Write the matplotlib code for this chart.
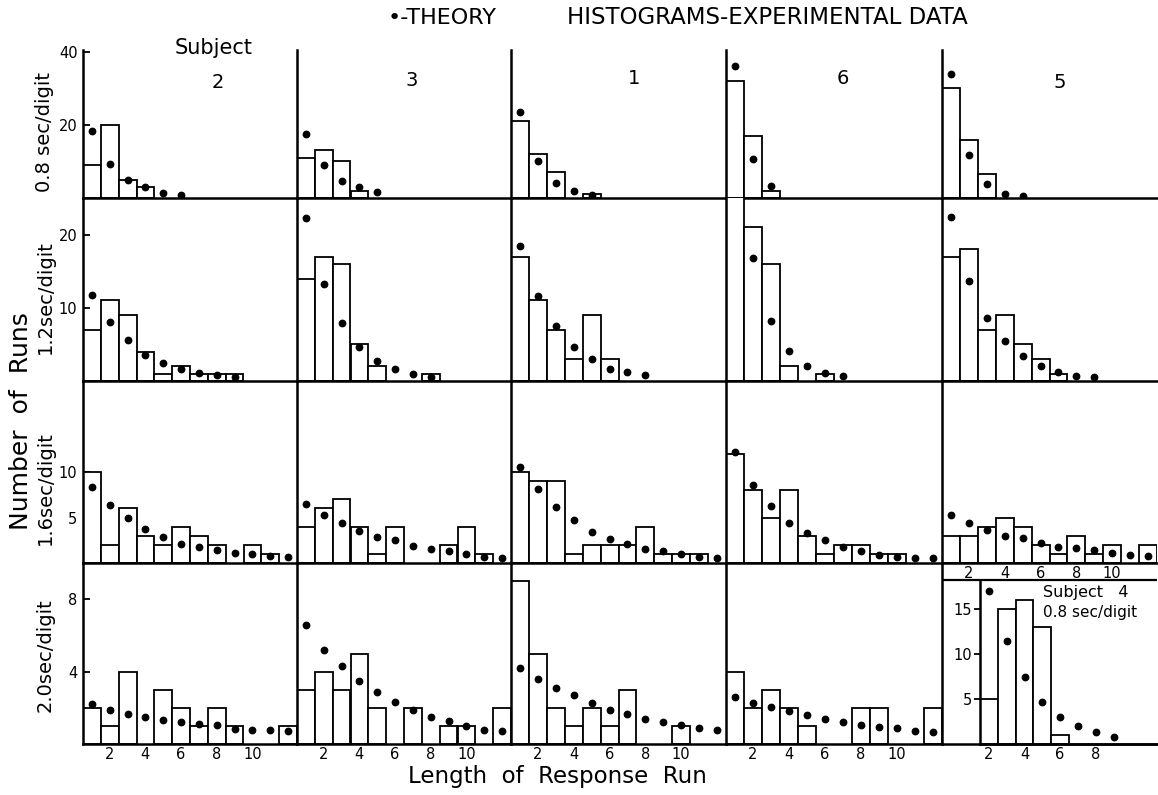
import numpy as np
import matplotlib
matplotlib.use('Agg')
import matplotlib.pyplot as plt

# Sujetos en el orden de las columnas
subjects = ['2', '3', '1', '6', '5']
rate_labels = ['0.8 sec/digit', '1.2sec/digit', '1.6sec/digit', '2.0sec/digit']

# Histogramas experimentales (nº de rachas de longitud 1, 2, 3, ...), una lista por sujeto
bars_08 = [[9, 20, 5, 3],
           [11, 13, 10, 2],
           [21, 12, 7, 0, 1],
           [32, 17, 2],
           [30, 16, 6.6]]
bars_12 = [[7, 11, 9, 4, 1, 2, 1, 1, 1],
           [14, 17, 16, 5, 2, 0, 0, 1],
           [17, 11, 7, 3, 9, 3],
           [27, 21, 16, 2, 0, 1],
           [17, 18, 7, 9, 5, 3, 1]]
bars_16 = [[10, 2, 6, 3, 2, 4, 3, 2, 0, 2, 1],
           [4, 6, 7, 4, 1, 4, 0, 0, 2, 4, 1],
           [10, 9, 9, 1, 2, 2, 2, 4, 1, 1, 1],
           [12, 8, 5, 8, 3, 1, 2, 2, 1, 1],
           [3, 3, 4, 5, 4, 2, 1, 3, 1, 2, 0, 2]]
bars_20 = [[2, 1, 4, 0, 3, 2, 1, 2, 1, 0, 0, 1],
           [3, 4, 3, 5, 2, 0, 2, 0, 1, 1, 0, 2],
           [9, 5, 2, 1, 2, 1, 3, 0, 0, 1],
           [4, 2, 3, 2, 1, 0, 0, 2, 2, 0, 0, 2]]

# Valores teóricos (puntos)
theory_08 = [[18.3, 9.4, 5.0, 2.9, 1.4, 0.9],
             [17.4, 9.0, 4.7, 2.9, 1.6],
             [23.6, 10.0, 4.2, 1.8, 0.9],
             [36.2, 10.8, 3.2],
             [33.8, 11.9, 3.9, 1.2, 0.5]]
theory_12 = [[11.8, 8.1, 5.6, 3.6, 2.4, 1.6, 1.1, 0.8, 0.5],
             [22.3, 13.2, 7.9, 4.6, 2.7, 1.6, 1.0, 0.5],
             [18.4, 11.6, 7.5, 4.7, 3.0, 1.7, 1.2, 0.8],
             [np.nan, 16.8, 8.2, 4.1, 2.1, 1.1, 0.7],
             [22.4, 13.7, 8.6, 5.4, 3.4, 2.0, 1.2, 0.7, 0.5]]
theory_16 = [[8.3, 6.4, 5.0, 3.7, 2.9, 2.1, 1.8, 1.4, 1.1, 1.0, 0.8, 0.65],
             [6.5, 5.3, 4.4, 3.5, 2.9, 2.5, 1.9, 1.5, 1.3, 1.0, 0.7, 0.5],
             [10.6, 8.1, 6.1, 4.7, 3.4, 2.6, 2.1, 1.5, 1.3, 1.0, 0.7, 0.55],
             [12.2, 8.6, 6.25, 4.4, 3.3, 2.5, 1.8, 1.3, 0.85, 0.7, 0.5, 0.5],
             [5.3, 4.4, 3.6, 3.0, 2.7, 2.2, 1.8, 1.6, 1.4, 1.1, 0.85, 0.8]]
theory_20 = [[2.2, 1.9, 1.65, 1.5, 1.3, 1.2, 1.1, 1.05, 0.85, 0.8, 0.75, 0.7],
             [6.55, 5.2, 4.3, 3.5, 2.85, 2.3, 1.9, 1.5, 1.25, 1.0, 0.8, 0.7],
             [4.2, 3.6, 3.1, 2.7, 2.25, 1.9, 1.67, 1.4, 1.2, 1.07, 0.9, 0.75],
             [2.6, 2.26, 2.07, 1.83, 1.6, 1.37, 1.2, 1.05, 0.93, 0.87, 0.72, 0.65]]

# Sujeto 4, 0.8 sec/digit (empieza en rachas de longitud 2)
s4_runs = [2, 3, 4, 5, 6]
s4_bars = [5, 15, 16, 13, 1]
s4_theory_runs = [2, 3, 4, 5, 6, 7, 8, 9]
s4_theory = [17.0, 11.4, 7.4, 4.7, 3.0, 2.0, 1.3, 0.75]

y_ticks = [[20, 40], [10, 20], [5, 10], [4, 8]]
x_ticks = [2, 4, 6, 8, 10]

all_bars = [bars_08, bars_12, bars_16, bars_20]
all_theory = [theory_08, theory_12, theory_16, theory_20]

W, H = 1158, 795
fig = plt.figure(figsize=(W / 100, H / 100), dpi=100)
plt.rcParams['font.family'] = ['DejaVu Sans']


def px_axes(left, top, right, bottom):
    ax = fig.add_axes([left / W, 1 - bottom / H, (right - left) / W, (bottom - top) / H])
    ax.patch.set_visible(False)
    return ax


def style_axes(ax):
    for s in ['top', 'right']:
        ax.spines[s].set_visible(False)
    for s in ['left', 'bottom']:
        ax.spines[s].set_linewidth(1.8)
    ax.tick_params(axis='x', length=0, labelsize=10.5, pad=2)
    ax.tick_params(axis='y', direction='in', length=5, width=1.3, labelsize=10.5, pad=4)
    ax.set_xticks([])
    ax.set_yticks([])


def draw_hist(ax, runs, counts, theo_runs, theo):
    counts = np.asarray(counts, dtype=float)
    runs = np.asarray(runs)
    keep = counts > 0
    ax.bar(runs[keep], counts[keep], width=1.0, facecolor='white',
           edgecolor='black', linewidth=1.3, zorder=2)
    ax.plot(theo_runs, theo, 'o', color='black', ms=4.6, zorder=3)


col_left = [83, 297, 511, 726, 942]
col_right = [297, 511, 726, 942, 1157]
row_top = [50, 198, 381, 563]
row_bottom = [198, 381, 563, 744]
y_max = [40.5, 25, 20, 10]

for r in range(4):
    for c in range(5):
        ax = px_axes(col_left[c], row_top[r], col_right[c], row_bottom[r])
        style_axes(ax)
        ax.set_xlim(0.5, 12.5)
        ax.set_ylim(0, y_max[r])
        if r == 3 and c == 4:
            # celda del sujeto 4: solo el marco
            ax.set_ylim(0, 1)
            ax.axhline((744 - 580) / 181, color='black', lw=1.6)
            continue
        counts = all_bars[r][c]
        theo = all_theory[r][c]
        draw_hist(ax, np.arange(1, len(counts) + 1), counts,
                  np.arange(1, len(theo) + 1), theo)
        if c == 0:
            ax.set_yticks(y_ticks[r])
        if r == 3 or (r == 2 and c == 4):
            ax.set_xticks(x_ticks)

# Panel insertado: sujeto 4
ax4 = px_axes(980, 580, 1157, 744)
for s in ['top', 'right']:
    ax4.spines[s].set_visible(False)
for s in ['left', 'bottom']:
    ax4.spines[s].set_linewidth(1.8)
ax4.set_xlim(1.5, 1.5 + 177 / 17.8)
ax4.set_ylim(0, 18.2)
draw_hist(ax4, s4_runs, s4_bars, s4_theory_runs, s4_theory)
ax4.set_xticks([2, 4, 6, 8])
ax4.set_yticks([5, 10, 15])
ax4.tick_params(axis='x', length=0, labelsize=10.5, pad=2)
ax4.tick_params(axis='y', direction='out', length=4, width=1.3, labelsize=10.5, pad=2)
fig.text(1043 / W, 1 - 593 / H, 'Subject   4', fontsize=11.5, ha='left', va='center')
fig.text(1043 / W, 1 - 613 / H, '0.8 sec/digit', fontsize=11, ha='left', va='center')

# Títulos y etiquetas
fig.text(388 / W, 1 - 18 / H, '•-THEORY', fontsize=16, ha='left', va='center')
fig.text(567 / W, 1 - 18 / H, 'HISTOGRAMS-EXPERIMENTAL DATA', fontsize=16.5,
         ha='left', va='center')
fig.text(175 / W, 1 - 48 / H, 'Subject', fontsize=15, ha='left', va='center')
for x, y, s in zip([218, 412, 634, 843, 1060], [82, 80, 78, 78, 83], subjects):
    fig.text(x / W, 1 - y / H, s, fontsize=14, ha='center', va='center')

for y, s in zip([132, 297, 488, 655], rate_labels):
    fig.text(45 / W, 1 - y / H, s, fontsize=14, rotation=90, ha='center', va='center')
fig.text(21 / W, 1 - 421 / H, 'Number  of  Runs', fontsize=18, rotation=90,
         ha='center', va='center')
fig.text(557 / W, 1 - 777 / H, 'Length  of  Response  Run', fontsize=16.5,
         ha='center', va='center')

fig.savefig('out.png', dpi=100)
